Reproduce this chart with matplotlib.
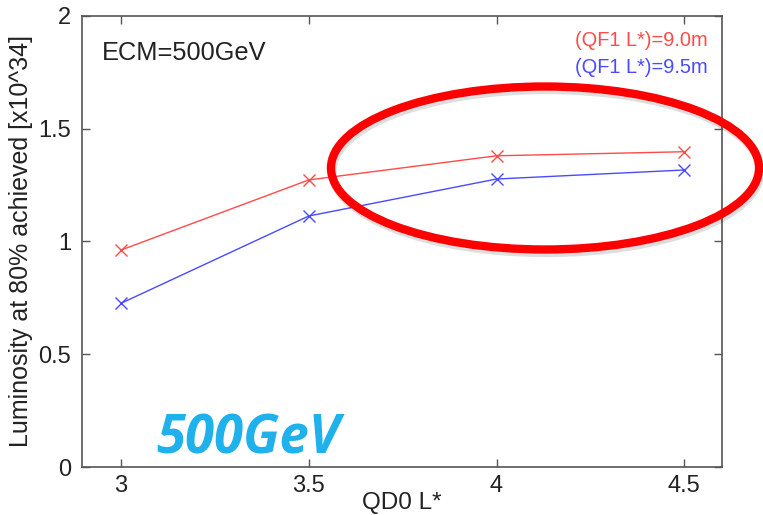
import matplotlib
matplotlib.use("Agg")
import matplotlib.pyplot as plt
import matplotlib.patheffects as pe
from matplotlib.patches import Ellipse

plt.rcParams["font.family"] = ["Liberation Sans", "DejaVu Sans"]

# data
qd0_lstar = [3.0, 3.5, 4.0, 4.5]
lumi_qf1_90 = [0.962, 1.273, 1.380, 1.398]
lumi_qf1_95 = [0.726, 1.113, 1.277, 1.317]
series_labels = ["(QF1 L*)=9.0m", "(QF1 L*)=9.5m"]
x_ticks = [3, 3.5, 4, 4.5]
x_tick_labels = ["3", "3.5", "4", "4.5"]
y_ticks = [0, 0.5, 1, 1.5, 2]
y_tick_labels = ["0", "0.5", "1", "1.5", "2"]

fig = plt.figure(figsize=(7.63, 5.15), dpi=100)
ax = fig.add_axes([0.1075, 0.0932, 0.8385, 0.8758])

red = "#ff4a4a"
blue = "#4a4aff"
ax.plot(qd0_lstar, lumi_qf1_90, color=red, lw=1.0, marker="x", ms=9, mew=1.0)
ax.plot(qd0_lstar, lumi_qf1_95, color=blue, lw=1.0, marker="x", ms=9, mew=1.0)

ax.set_xlim(2.896, 4.6)
ax.set_ylim(0, 2)
ax.set_xticks(x_ticks)
ax.set_xticklabels(x_tick_labels)
ax.set_yticks(y_ticks)
ax.set_yticklabels(y_tick_labels)
ax.tick_params(direction="in", length=6, width=1, color="#555555",
               top=True, right=True, labelsize=17, pad=8, labelcolor="#222222")
ax.tick_params(axis="x", pad=6)
for spine in ax.spines.values():
    spine.set_color("#555555")
    spine.set_linewidth(1.2)

ax.set_xlabel("QD0 L*", fontsize=17.5, color="#222222")
ax.xaxis.set_label_coords(0.5, -0.055)
ax.set_ylabel("Luminosity at 80% achieved [x10^34]", fontsize=18, color="#222222")
ax.yaxis.set_label_coords(-0.077, 0.5)

ax.text(0.031, 0.918, "ECM=500GeV", transform=ax.transAxes, fontsize=18.3,
        color="#222222", va="center", ha="left")
ax.text(0.978, 0.945, series_labels[0], transform=ax.transAxes, fontsize=14.4,
        color=red, va="center", ha="right")
ax.text(0.978, 0.885, series_labels[1], transform=ax.transAxes, fontsize=14.4,
        color=blue, va="center", ha="right")

fig.text(0.205, 0.146, "500GeV", fontsize=38, color="#1fb1eb",
         fontweight="bold", fontstyle="italic", family=["Open Sans", "DejaVu Sans"],
         va="center", ha="left")

# highlight ellipse drawn over the figure
ring = Ellipse((0.7143, 0.6738), 0.561, 0.3165, transform=fig.transFigure,
               fill=False, edgecolor="#ff0000", lw=6, clip_on=False)
ring.set_path_effects([pe.SimpleLineShadow(offset=(1, -2.5), shadow_color="k", alpha=0.13),
                       pe.Normal()])
fig.add_artist(ring)

fig.savefig("out.png", dpi=100)
